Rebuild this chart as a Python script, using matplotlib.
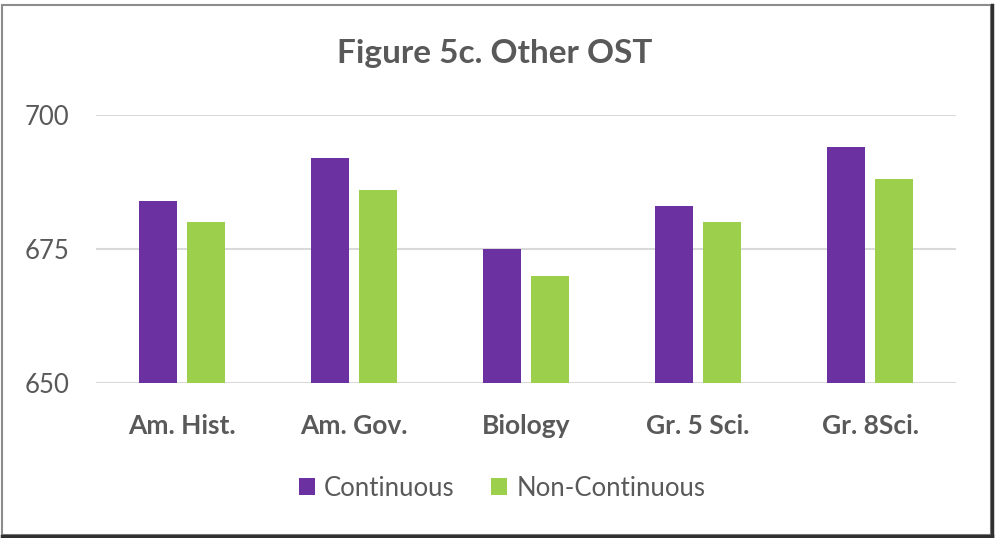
import matplotlib
matplotlib.use("Agg")
import matplotlib.pyplot as plt
import numpy as np
from matplotlib.patches import Rectangle
from matplotlib.lines import Line2D

categories = ["Am. Hist.", "Am. Gov.", "Biology", "Gr. 5 Sci.", "Gr. 8Sci."]
continuous = [684, 692, 675, 683, 694]
non_continuous = [680, 686, 670, 680, 688]
series_names = ["Continuous", "Non-Continuous"]
yticks = [650, 675, 700]
title = "Figure 5c. Other OST"

purple = "#6B31A0"
green = "#9CCF4C"
text_gray = "#595959"

plt.rcParams['font.family'] = ['Lato', 'DejaVu Sans']

fig = plt.figure(figsize=(9.96, 5.38), dpi=100)
W, H = 996, 538
ax = fig.add_axes([96 / W, (H - 383) / H, (956 - 96) / W, (383 - 115) / H])

x = np.arange(len(categories))
bw = 0.222
off = 0.14
ax.bar(x - off, continuous, width=bw, color=purple, label=series_names[0], zorder=3)
ax.bar(x + off, non_continuous, width=bw, color=green, label=series_names[1], zorder=3)

ax.set_xlim(-0.5, len(categories) - 0.5)
ax.set_ylim(650, 700)
ax.set_yticks(yticks)
ax.set_yticklabels([str(t) for t in yticks], fontsize=18.5, color=text_gray)
ax.set_xticks(x)
ax.set_xticklabels(categories, fontsize=19, fontweight='bold', color=text_gray)
ax.tick_params(axis='both', length=0)
ax.tick_params(axis='y', pad=19)
ax.tick_params(axis='x', pad=22)
ax.grid(axis='y', color='#D9D9D9', linewidth=1.5, zorder=0)
for s in ax.spines.values():
    s.set_visible(False)

fig.text(495 / W, 1 - 53 / H, title, ha='center', va='center', fontsize=24,
         fontweight='bold', color=text_gray)

leg = fig.legend(loc='center', bbox_to_anchor=(502 / W, 1 - 488 / H), ncol=2,
                 frameon=False, fontsize=18.5, handlelength=0.62, handleheight=0.62,
                 handletextpad=0.35, columnspacing=1.45)
for t in leg.get_texts():
    t.set_color(text_gray)

# outer border
fig.add_artist(Rectangle((2 / W, 1 - 535 / H), (991 - 2) / W, (535 - 5) / H,
                         transform=fig.transFigure, fill=False,
                         edgecolor='#8C8C8C', linewidth=1.5))
fig.add_artist(Line2D([2 / W, 992 / W], [1 - 535.5 / H, 1 - 535.5 / H],
                      transform=fig.transFigure, color='#303030', linewidth=2.5))
fig.add_artist(Line2D([991.5 / W, 991.5 / W], [1 - 5 / H, 1 - 536 / H],
                      transform=fig.transFigure, color='#303030', linewidth=2.5))

fig.savefig("out.png", dpi=100)
